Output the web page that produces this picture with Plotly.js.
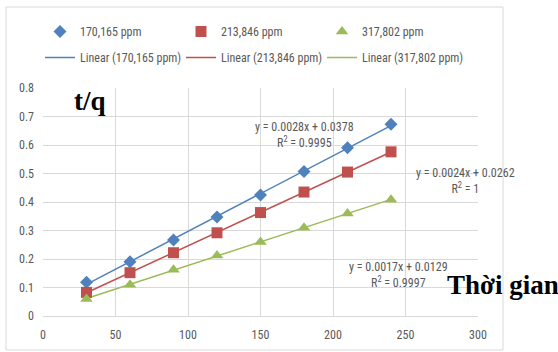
<!DOCTYPE html>
<html><head><meta charset="utf-8">
<script src="https://cdn.plot.ly/plotly-3.0.1.min.js"></script>
<style>html,body{margin:0;padding:0;background:#fff}#c{width:558px;height:352px}</style>
</head><body><div id="c"></div>
<script>
const times = [30, 60, 90, 120, 150, 180, 210, 240];
const seriesNames = ['170,165 ppm', '213,846 ppm', '317,802 ppm'];
const blueValues = [0.118, 0.190, 0.267, 0.347, 0.425, 0.507, 0.590, 0.673];
const redValues = [0.083, 0.152, 0.222, 0.292, 0.363, 0.435, 0.505, 0.576];
const greenValues = [0.060, 0.110, 0.162, 0.212, 0.260, 0.310, 0.360, 0.408];
const equations = ['y = 0.0028x + 0.0378<br>R<sup>2</sup> = 0.9995', 'y = 0.0024x + 0.0262<br>R<sup>2</sup> = 1', 'y = 0.0017x + 0.0129<br>R<sup>2</sup> = 0.9997'];
const xTicks = [0, 50, 100, 150, 200, 250, 300];
const yTicks = [0, 0.1, 0.2, 0.3, 0.4, 0.5, 0.6, 0.7, 0.8];

const colors = ['#4F81BD', '#C0504D', '#9BBB59'];
const symbols = ['diamond', 'square', 'triangle-up'];
const sizes = [10, 11, 11];
const allValues = [blueValues, redValues, greenValues];
const FONT = '"Liberation Sans Narrow", "Roboto Condensed", "Liberation Sans", sans-serif';
const SERIF = '"Liberation Serif", "Times New Roman", serif';

function fit(xs, ys) {
  const n = xs.length;
  const mx = xs.reduce((a, b) => a + b, 0) / n;
  const my = ys.reduce((a, b) => a + b, 0) / n;
  let sxy = 0, sxx = 0;
  for (let i = 0; i < n; i++) { sxy += (xs[i] - mx) * (ys[i] - my); sxx += (xs[i] - mx) ** 2; }
  const b = sxy / sxx; const a = my - b * mx;
  return xs.map(x => a + b * x);
}

const traces = [];
allValues.forEach((vals, i) => {
  const f = fit(times, vals);
  traces.push({
    x: [times[0], times[times.length - 1]],
    y: [f[0], f[f.length - 1]],
    mode: 'lines', name: 'Linear (' + seriesNames[i] + ')',
    line: {color: colors[i], width: 1.5}, legend: 'legend2', hoverinfo: 'skip'
  });
});
allValues.forEach((vals, i) => {
  traces.push({
    x: times, y: vals, mode: 'markers', name: seriesNames[i],
    marker: {color: colors[i], symbol: symbols[i], size: sizes[i]}, legend: 'legend'
  });
});

const pxX = px => (px - 43) / 435;
const pxY = py => (316 - py) / 228;

function ann(px, py, text, font) {
  return {xref: 'paper', yref: 'paper', x: pxX(px), y: pxY(py), xanchor: 'center', yanchor: 'middle',
    text: text, showarrow: false, align: 'center', font: font};
}
const eqFont = {family: FONT, size: 12, color: '#595959'};
const titleFont = {family: SERIF, size: 27, color: '#000'};

const layout = {
  width: 558, height: 352,
  margin: {l: 43, r: 80, t: 88, b: 36},
  paper_bgcolor: '#fff', plot_bgcolor: '#fff',
  font: {family: FONT, size: 12, color: '#595959'},
  showlegend: true,
  xaxis: {range: [0, 300], tickvals: xTicks, ticktext: xTicks.map(String), showgrid: true, gridcolor: '#D9D9D9',
    zeroline: false, showline: true, linecolor: '#D9D9D9', ticks: '', ticklabelstandoff: 8,
    tickfont: {size: 12, color: '#595959'}, fixedrange: true},
  yaxis: {range: [0, 0.8], tickvals: yTicks, ticktext: yTicks.map(String), showgrid: true, gridcolor: '#D9D9D9',
    zeroline: false, showline: false, ticks: '', ticklabelstandoff: 8,
    tickfont: {size: 12, color: '#595959'}, fixedrange: true},
  legend: {orientation: 'h', x: pxX(40), y: pxY(17), xanchor: 'left', yanchor: 'top',
    entrywidth: 96, entrywidthmode: 'pixels', font: {family: FONT, size: 12, color: '#595959'},
    itemwidth: 30, bgcolor: 'rgba(0,0,0,0)'},
  legend2: {orientation: 'h', x: pxX(40), y: pxY(43), xanchor: 'left', yanchor: 'top',
    entrywidth: 96, entrywidthmode: 'pixels', font: {family: FONT, size: 12, color: '#595959'},
    itemwidth: 30, bgcolor: 'rgba(0,0,0,0)'},
  shapes: [{type: 'rect', xref: 'paper', yref: 'paper', x0: pxX(6), x1: pxX(503), y0: pxY(350), y1: pxY(7),
    line: {color: '#D9D9D9', width: 1}, fillcolor: 'rgba(0,0,0,0)', layer: 'below'}],
  annotations: [
    ann(304, 135, equations[0], eqFont),
    ann(465, 181, equations[1], eqFont),
    ann(398, 275, equations[2], eqFont),
    ann(90, 101, '<b>t/q</b>', titleFont),
    ann(503, 285, '<b>Thời gian</b>', titleFont)
  ]
};
Plotly.newPlot('c', traces, layout, {displayModeBar: false, staticPlot: true});
</script></body></html>
